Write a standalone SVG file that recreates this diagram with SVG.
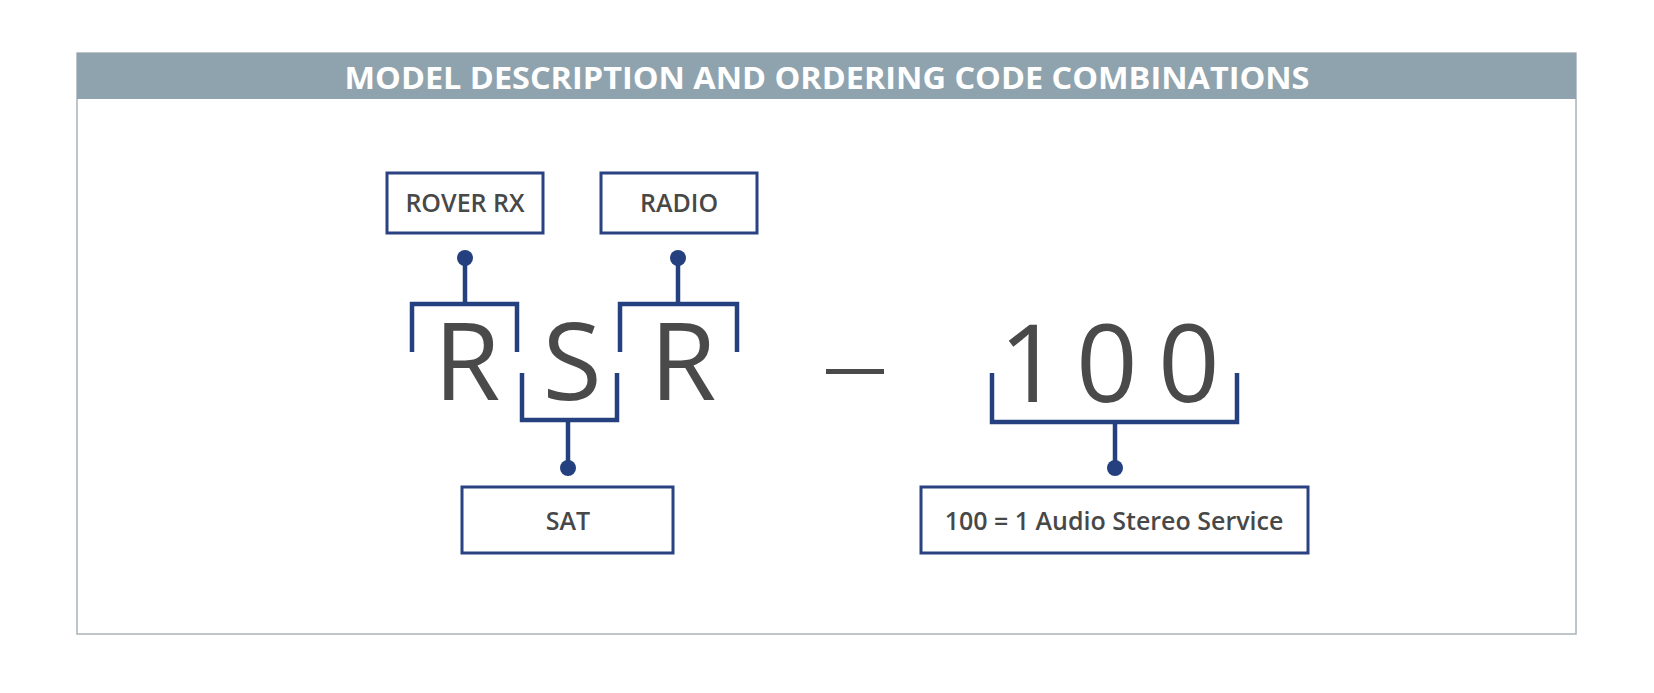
<svg xmlns="http://www.w3.org/2000/svg" width="1654" height="693" viewBox="0 0 1654 693">
<style>
.lbl{font-family:"Open Sans","Liberation Sans",sans-serif;font-weight:600;font-size:25px;fill:#484848;text-anchor:middle}
.big{font-family:"Open Sans","Liberation Sans",sans-serif;font-weight:400;font-size:108px;fill:#4a4a4a;text-anchor:middle}
.box{fill:#fff;stroke:#2a4282;stroke-width:3}
.br{fill:none;stroke:#24407f;stroke-width:4.5}
.dot{fill:#24407f}
</style>
<rect x="0" y="0" width="1654" height="693" fill="#fff"/>
<g id="frame">
<rect x="77" y="53" width="1499" height="581" fill="#fff" stroke="#a8b3b9" stroke-width="1.5"/>
<rect x="77" y="53" width="1499" height="46" fill="#8fa3ae"/>
<text x="827" y="89" font-family="'Open Sans','Liberation Sans',sans-serif" font-weight="700" font-size="31" fill="#fff" text-anchor="middle" textLength="965" lengthAdjust="spacingAndGlyphs">MODEL DESCRIPTION AND ORDERING CODE COMBINATIONS</text>
</g>
<g id="letters">
<text class="big" x="467" y="400">R</text>
<text class="big" x="572" y="400">S</text>
<text class="big" x="683" y="400">R</text>
<rect x="826" y="369" width="58" height="5" fill="#4a4a4a"/>
<text class="big" x="1030" y="402">1</text>
<text class="big" x="1107" y="402">0</text>
<text class="big" x="1189" y="402">0</text>
</g>
<g id="connectors">
<path class="br" d="M412 352 V304 H517 V352 M465 304 V258"/>
<path class="br" d="M620 352 V304 H737 V352 M678 304 V258"/>
<path class="br" d="M522 373 V420 H617 V373 M568 420 V468"/>
<path class="br" d="M992 373 V422 H1237 V373 M1115 422 V468"/>
<circle class="dot" cx="465" cy="258" r="8"/>
<circle class="dot" cx="678" cy="258" r="8"/>
<circle class="dot" cx="568" cy="468" r="8"/>
<circle class="dot" cx="1115" cy="468" r="8"/>
</g>
<g id="rover">
<rect class="box" x="387" y="173" width="156" height="60"/>
<text class="lbl" x="465" y="212">ROVER RX</text>
</g>
<g id="radio">
<rect class="box" x="601" y="173" width="156" height="60"/>
<text class="lbl" x="679" y="212">RADIO</text>
</g>
<g id="sat">
<rect class="box" x="462" y="487" width="211" height="66"/>
<text class="lbl" x="568" y="530">SAT</text>
</g>
<g id="service">
<rect class="box" x="921" y="487" width="387" height="66"/>
<text class="lbl" x="1114" y="530">100 = 1 Audio Stereo Service</text>
</g>
</svg>
